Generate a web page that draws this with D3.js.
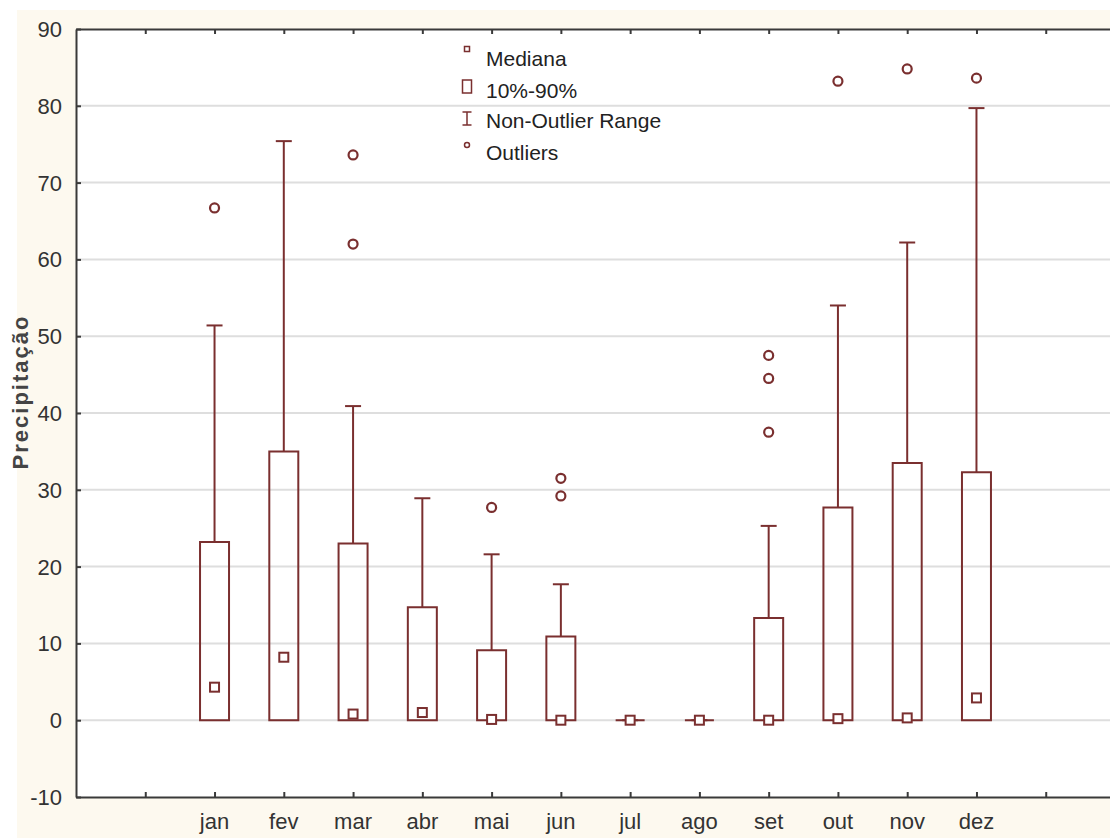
<!DOCTYPE html>
<html>
<head>
<meta charset="utf-8">
<script src="https://cdn.jsdelivr.net/npm/d3@7"></script>
<style>
  body { margin: 0; background: #fff; }
  text { font-family: "Liberation Sans", Arial, sans-serif; }
</style>
</head>
<body>
<svg id="chart" width="1110" height="838"></svg>
<script>
// data
var months = ["jan", "fev", "mar", "abr", "mai", "jun", "jul", "ago", "set", "out", "nov", "dez"]
var medians = [4.3, 8.2, 0.8, 1.0, 0.1, 0, 0, 0, 0, 0.2, 0.3, 2.9]
var p10 = [0, 0, 0, 0, 0, 0, 0, 0, 0, 0, 0, 0]
var p90 = [23.2, 35.0, 23.0, 14.7, 9.1, 10.9, 0, 0, 13.3, 27.7, 33.5, 32.3]
var whiskerMax = [51.4, 75.4, 40.9, 28.9, 21.6, 17.7, 0, 0, 25.3, 54.0, 62.2, 79.7]
var outliers = [[66.7], [], [73.6, 62.0], [], [27.7], [31.5, 29.2], [], [], [47.5, 44.5, 37.5], [83.2], [84.8], [83.6]]
var yTicks = [-10, 0, 10, 20, 30, 40, 50, 60, 70, 80, 90]
var legendLabels = ["Mediana", "10%-90%", "Non-Outlier Range", "Outliers"]

var data = months.map(function(m, i) {
    return { month: m, pos: i + 2, med: medians[i], lo: p10[i], hi: p90[i], wmax: whiskerMax[i], out: outliers[i] }
})

var red = "#7a2f2f",
    dark = "#3a3a3a"

var plotL = 76, plotR = 1115, plotT = 29, plotB = 797

var x = d3.scaleLinear().domain([0, 15]).range([plotL, plotR]),
    y = d3.scaleLinear().domain([-10, 90]).range([plotB, plotT])

var svg = d3.select("#chart")

// cream frame and white plot area
svg.append("rect").attr("x", 17).attr("y", 10).attr("width", 1093).attr("height", 828).attr("fill", "#fdf9ef")
svg.append("rect").attr("x", plotL).attr("y", plotT).attr("width", plotR - plotL).attr("height", plotB - plotT).attr("fill", "#fff")

// grid lines
svg.append("g")
    .selectAll("line")
    .data(yTicks.slice(1, -1))
    .enter().append("line")
    .attr("x1", plotL).attr("x2", plotR)
    .attr("y1", function(d) { return y(d) }).attr("y2", function(d) { return y(d) })
    .attr("stroke", "#dedede").attr("stroke-width", 2)

// axes, ticks pointing inwards
var xTickVals = d3.range(1, 15)
svg.append("g").attr("transform", "translate(0," + plotB + ")")
    .call(d3.axisTop(x).tickValues(xTickVals).tickSize(5).tickSizeOuter(0).tickFormat(""))
svg.append("g").attr("transform", "translate(0," + plotT + ")")
    .call(d3.axisBottom(x).tickValues(xTickVals).tickSize(5).tickSizeOuter(0).tickFormat(""))
svg.append("g").attr("transform", "translate(" + plotL + ",0)")
    .call(d3.axisRight(y).tickValues(yTicks).tickSize(5).tickSizeOuter(0).tickFormat(""))
svg.append("g").attr("transform", "translate(" + plotR + ",0)")
    .call(d3.axisLeft(y).tickValues(yTicks).tickSize(5).tickSizeOuter(0).tickFormat(""))
svg.selectAll(".domain").attr("stroke", dark).attr("stroke-width", 2)
svg.selectAll(".tick line").attr("stroke", dark).attr("stroke-width", 2)

// y tick labels
svg.append("g")
    .selectAll("text")
    .data(yTicks)
    .enter().append("text")
    .attr("x", 62).attr("y", function(d) { return y(d) })
    .attr("dy", "0.36em")
    .attr("text-anchor", "end")
    .attr("font-size", 22)
    .attr("fill", "#333")
    .text(function(d) { return d })

// month labels
svg.append("g")
    .selectAll("text")
    .data(data)
    .enter().append("text")
    .attr("x", function(d) { return x(d.pos) }).attr("y", 829)
    .attr("text-anchor", "middle")
    .attr("font-size", 22)
    .attr("fill", "#333")
    .text(function(d) { return d.month })

// y axis title
svg.append("text")
    .attr("transform", "translate(28,392) rotate(-90)")
    .attr("text-anchor", "middle")
    .attr("font-size", 22)
    .attr("font-weight", "bold")
    .attr("letter-spacing", 2)
    .attr("fill", "#444")
    .text("Precipitação")

// boxes
var bw = 29, cap = 16, ms = 9
var box = svg.append("g").selectAll("g")
    .data(data)
    .enter().append("g")

box.append("line")
    .attr("x1", function(d) { return x(d.pos) }).attr("x2", function(d) { return x(d.pos) })
    .attr("y1", function(d) { return y(d.hi) }).attr("y2", function(d) { return y(d.wmax) })
    .attr("stroke", red).attr("stroke-width", 2)

box.append("line")
    .attr("x1", function(d) { return x(d.pos) - cap / 2 }).attr("x2", function(d) { return x(d.pos) + cap / 2 })
    .attr("y1", function(d) { return y(d.wmax) }).attr("y2", function(d) { return y(d.wmax) })
    .attr("stroke", red).attr("stroke-width", 2)

// box drawn as a path so that a flat (zero height) box still shows as a line
box.append("path")
    .attr("d", function(d) {
        var x0 = x(d.pos) - bw / 2, x1 = x(d.pos) + bw / 2
        return "M" + x0 + "," + y(d.lo) + "H" + x1 + "V" + y(d.hi) + "H" + x0 + "Z"
    })
    .attr("fill", "none").attr("stroke", red).attr("stroke-width", 2)

box.append("rect")
    .attr("x", function(d) { return x(d.pos) - ms / 2 })
    .attr("y", function(d) { return y(d.med) - ms / 2 })
    .attr("width", ms).attr("height", ms)
    .attr("fill", "#fff").attr("stroke", red).attr("stroke-width", 2)

box.selectAll("circle")
    .data(function(d) { return d.out.map(function(v) { return { pos: d.pos, v: v } }) })
    .enter().append("circle")
    .attr("cx", function(d) { return x(d.pos) })
    .attr("cy", function(d) { return y(d.v) })
    .attr("r", 4.5)
    .attr("fill", "#fff").attr("stroke", red).attr("stroke-width", 2.2)

// legend
var lx = 467, tx = 486, rows = [58, 90, 120, 152]
var legend = svg.append("g")

legend.append("rect").attr("x", lx - 2.5).attr("y", 46.5).attr("width", 5).attr("height", 5)
    .attr("fill", "#fff").attr("stroke", red).attr("stroke-width", 1.5)
legend.append("rect").attr("x", lx - 4.5).attr("y", 80).attr("width", 9).attr("height", 13)
    .attr("fill", "#fff").attr("stroke", red).attr("stroke-width", 1.5)
legend.append("line").attr("x1", lx).attr("x2", lx).attr("y1", 112).attr("y2", 125).attr("stroke", red).attr("stroke-width", 1.5)
legend.append("line").attr("x1", lx - 4.5).attr("x2", lx + 4.5).attr("y1", 112).attr("y2", 112).attr("stroke", red).attr("stroke-width", 1.5)
legend.append("line").attr("x1", lx - 4.5).attr("x2", lx + 4.5).attr("y1", 125).attr("y2", 125).attr("stroke", red).attr("stroke-width", 1.5)
legend.append("circle").attr("cx", lx).attr("cy", 145).attr("r", 2.5)
    .attr("fill", "#fff").attr("stroke", red).attr("stroke-width", 1.5)

legend.selectAll("text")
    .data(legendLabels)
    .enter().append("text")
    .attr("x", tx).attr("y", function(d, i) { return rows[i] })
    .attr("dy", "0.36em")
    .attr("font-size", 21)
    .attr("fill", "#222")
    .text(function(d) { return d })
</script>
</body>
</html>
